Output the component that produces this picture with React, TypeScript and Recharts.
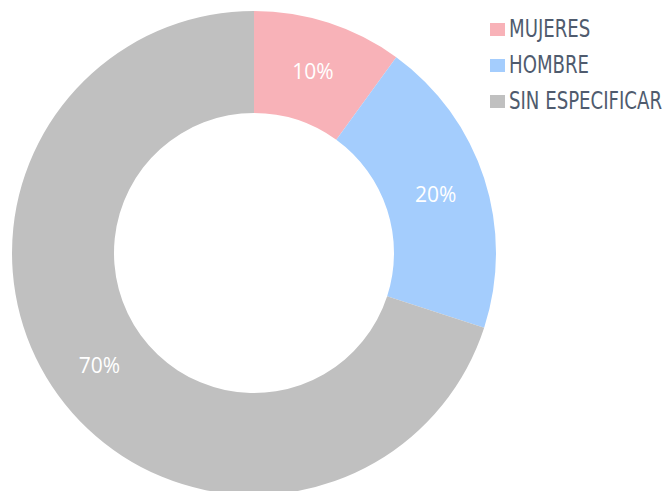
import { PieChart, Pie, Cell, Legend } from 'recharts';

document.body.style.margin = '0';

const categories = ['MUJERES', 'HOMBRE', 'SIN ESPECIFICAR'];
const shares = [10, 20, 70];
const colors = ['#F8B2B8', '#A4CDFD', '#C0C0C0'];

const data = categories.map((name, i) => ({ name, value: shares[i] }));

const RADIAN = Math.PI / 180;

// white percentage label in the middle of each ring segment
function renderLabel(props: any) {
  const { cx, cy, midAngle, innerRadius, outerRadius, value } = props;
  const r = (innerRadius + outerRadius) / 2;
  const x = cx + r * Math.cos(-midAngle * RADIAN);
  const y = cy + r * Math.sin(-midAngle * RADIAN);
  return (
    <text
      x={x}
      y={y}
      fill="#FFFFFF"
      textAnchor="middle"
      dominantBaseline="central"
      style={{ fontFamily: '"Open Sans", sans-serif', fontSize: '21px' }}
    >
      {value}%
    </text>
  );
}

function LegendContent() {
  return (
    <div style={{ display: 'flex', flexDirection: 'column' }}>
      {categories.map((name, i) => (
        <div key={name} style={{ display: 'flex', alignItems: 'center', height: 36 }}>
          <span style={{ width: 15, height: 13, flexShrink: 0, background: colors[i], marginRight: 4 }} />
          <span
            style={{
              fontFamily: '"DejaVu Sans Condensed", sans-serif',
              fontSize: '24px',
              color: '#4F5B6E',
              whiteSpace: 'nowrap',
              display: 'inline-block',
              transform: 'scaleX(0.84)',
              transformOrigin: 'left center',
            }}
          >
            {name}
          </span>
        </div>
      ))}
    </div>
  );
}

export default function App() {
  return (
    <div style={{ width: 662, height: 491, overflow: 'hidden', background: '#fff' }}>
      <PieChart width={662} height={491} margin={{ top: 0, right: 0, bottom: 0, left: 0 }}>
        <Pie
          data={data}
          dataKey="value"
          nameKey="name"
          cx={254}
          cy={253}
          innerRadius={140}
          outerRadius={242}
          startAngle={90}
          endAngle={-270}
          stroke="none"
          label={renderLabel}
          labelLine={false}
          isAnimationActive={false}
        >
          {data.map((d, i) => (
            <Cell key={d.name} fill={colors[i]} />
          ))}
        </Pie>
        <Legend
          layout="vertical"
          verticalAlign="top"
          align="right"
          wrapperStyle={{ top: 11, left: 490, width: 172 }}
          content={<LegendContent />}
        />
      </PieChart>
    </div>
  );
}
